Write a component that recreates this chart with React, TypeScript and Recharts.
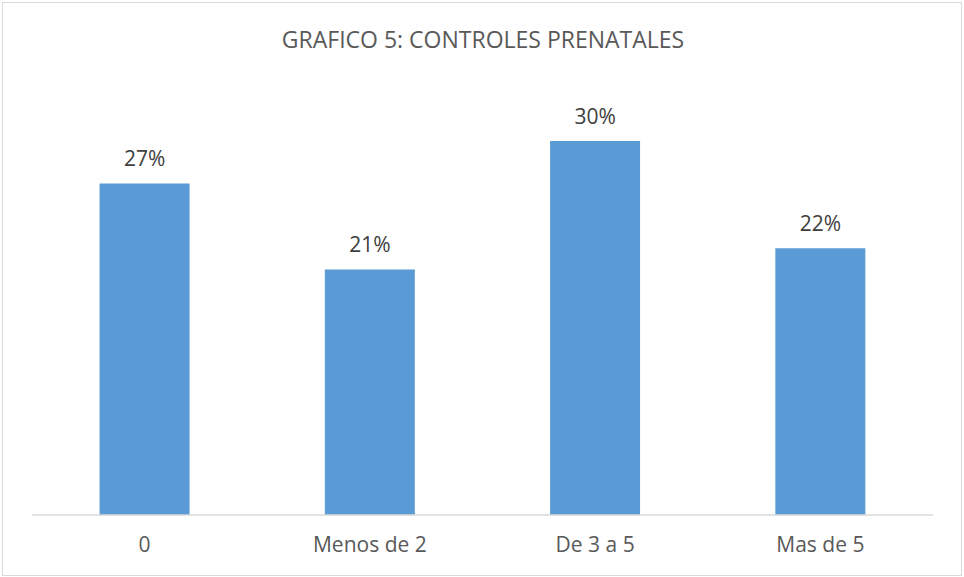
import { BarChart, Bar, XAxis, YAxis, LabelList } from 'recharts';

const categories = ['0', 'Menos de 2', 'De 3 a 5', 'Mas de 5'];
const barValues = [26.6, 19.7, 30.0, 21.4];
const barLabels = ['27%', '21%', '30%', '22%'];

const data = categories.map((name, i) => ({ name, value: barValues[i], label: barLabels[i] }));

const FONT = '"Open Sans", sans-serif';

export default function App() {
  return (
    <div style={{ position: 'absolute', left: 0, top: 0, width: 964, height: 577, background: '#fff', fontFamily: FONT }}>
      <div
        style={{
          position: 'absolute',
          left: 2,
          top: 2,
          width: 958,
          height: 572,
          border: '1px solid #d9d9d9',
        }}
      />
      <div
        style={{
          position: 'absolute',
          left: 0,
          top: 23,
          width: 966,
          textAlign: 'center',
          fontSize: 23,
          color: '#595959',
          lineHeight: '32px',
        }}
      >
        GRAFICO 5: CONTROLES PRENATALES
      </div>
      <div style={{ position: 'absolute', left: 0, top: 0 }}>
        <BarChart
          width={964}
          height={577}
          data={data}
          margin={{ top: 78.7, right: 31, left: 32, bottom: 32 }}
          barCategoryGap="30%"
        >
          <XAxis
            dataKey="name"
            axisLine={{ stroke: '#d9d9d9', strokeWidth: 1.5 }}
            tickLine={false}
            height={30}
            tickMargin={16}
            tick={{ fill: '#595959', fontSize: 21, fontFamily: FONT }}
          />
          <YAxis hide domain={[0, 35]} />
          <Bar dataKey="value" fill="#5b9bd5" isAnimationActive={false}>
            <LabelList
              dataKey="label"
              position="top"
              offset={17}
              fill="#404040"
              fontSize={21}
              fontFamily={FONT}
            />
          </Bar>
        </BarChart>
      </div>
    </div>
  );
}
